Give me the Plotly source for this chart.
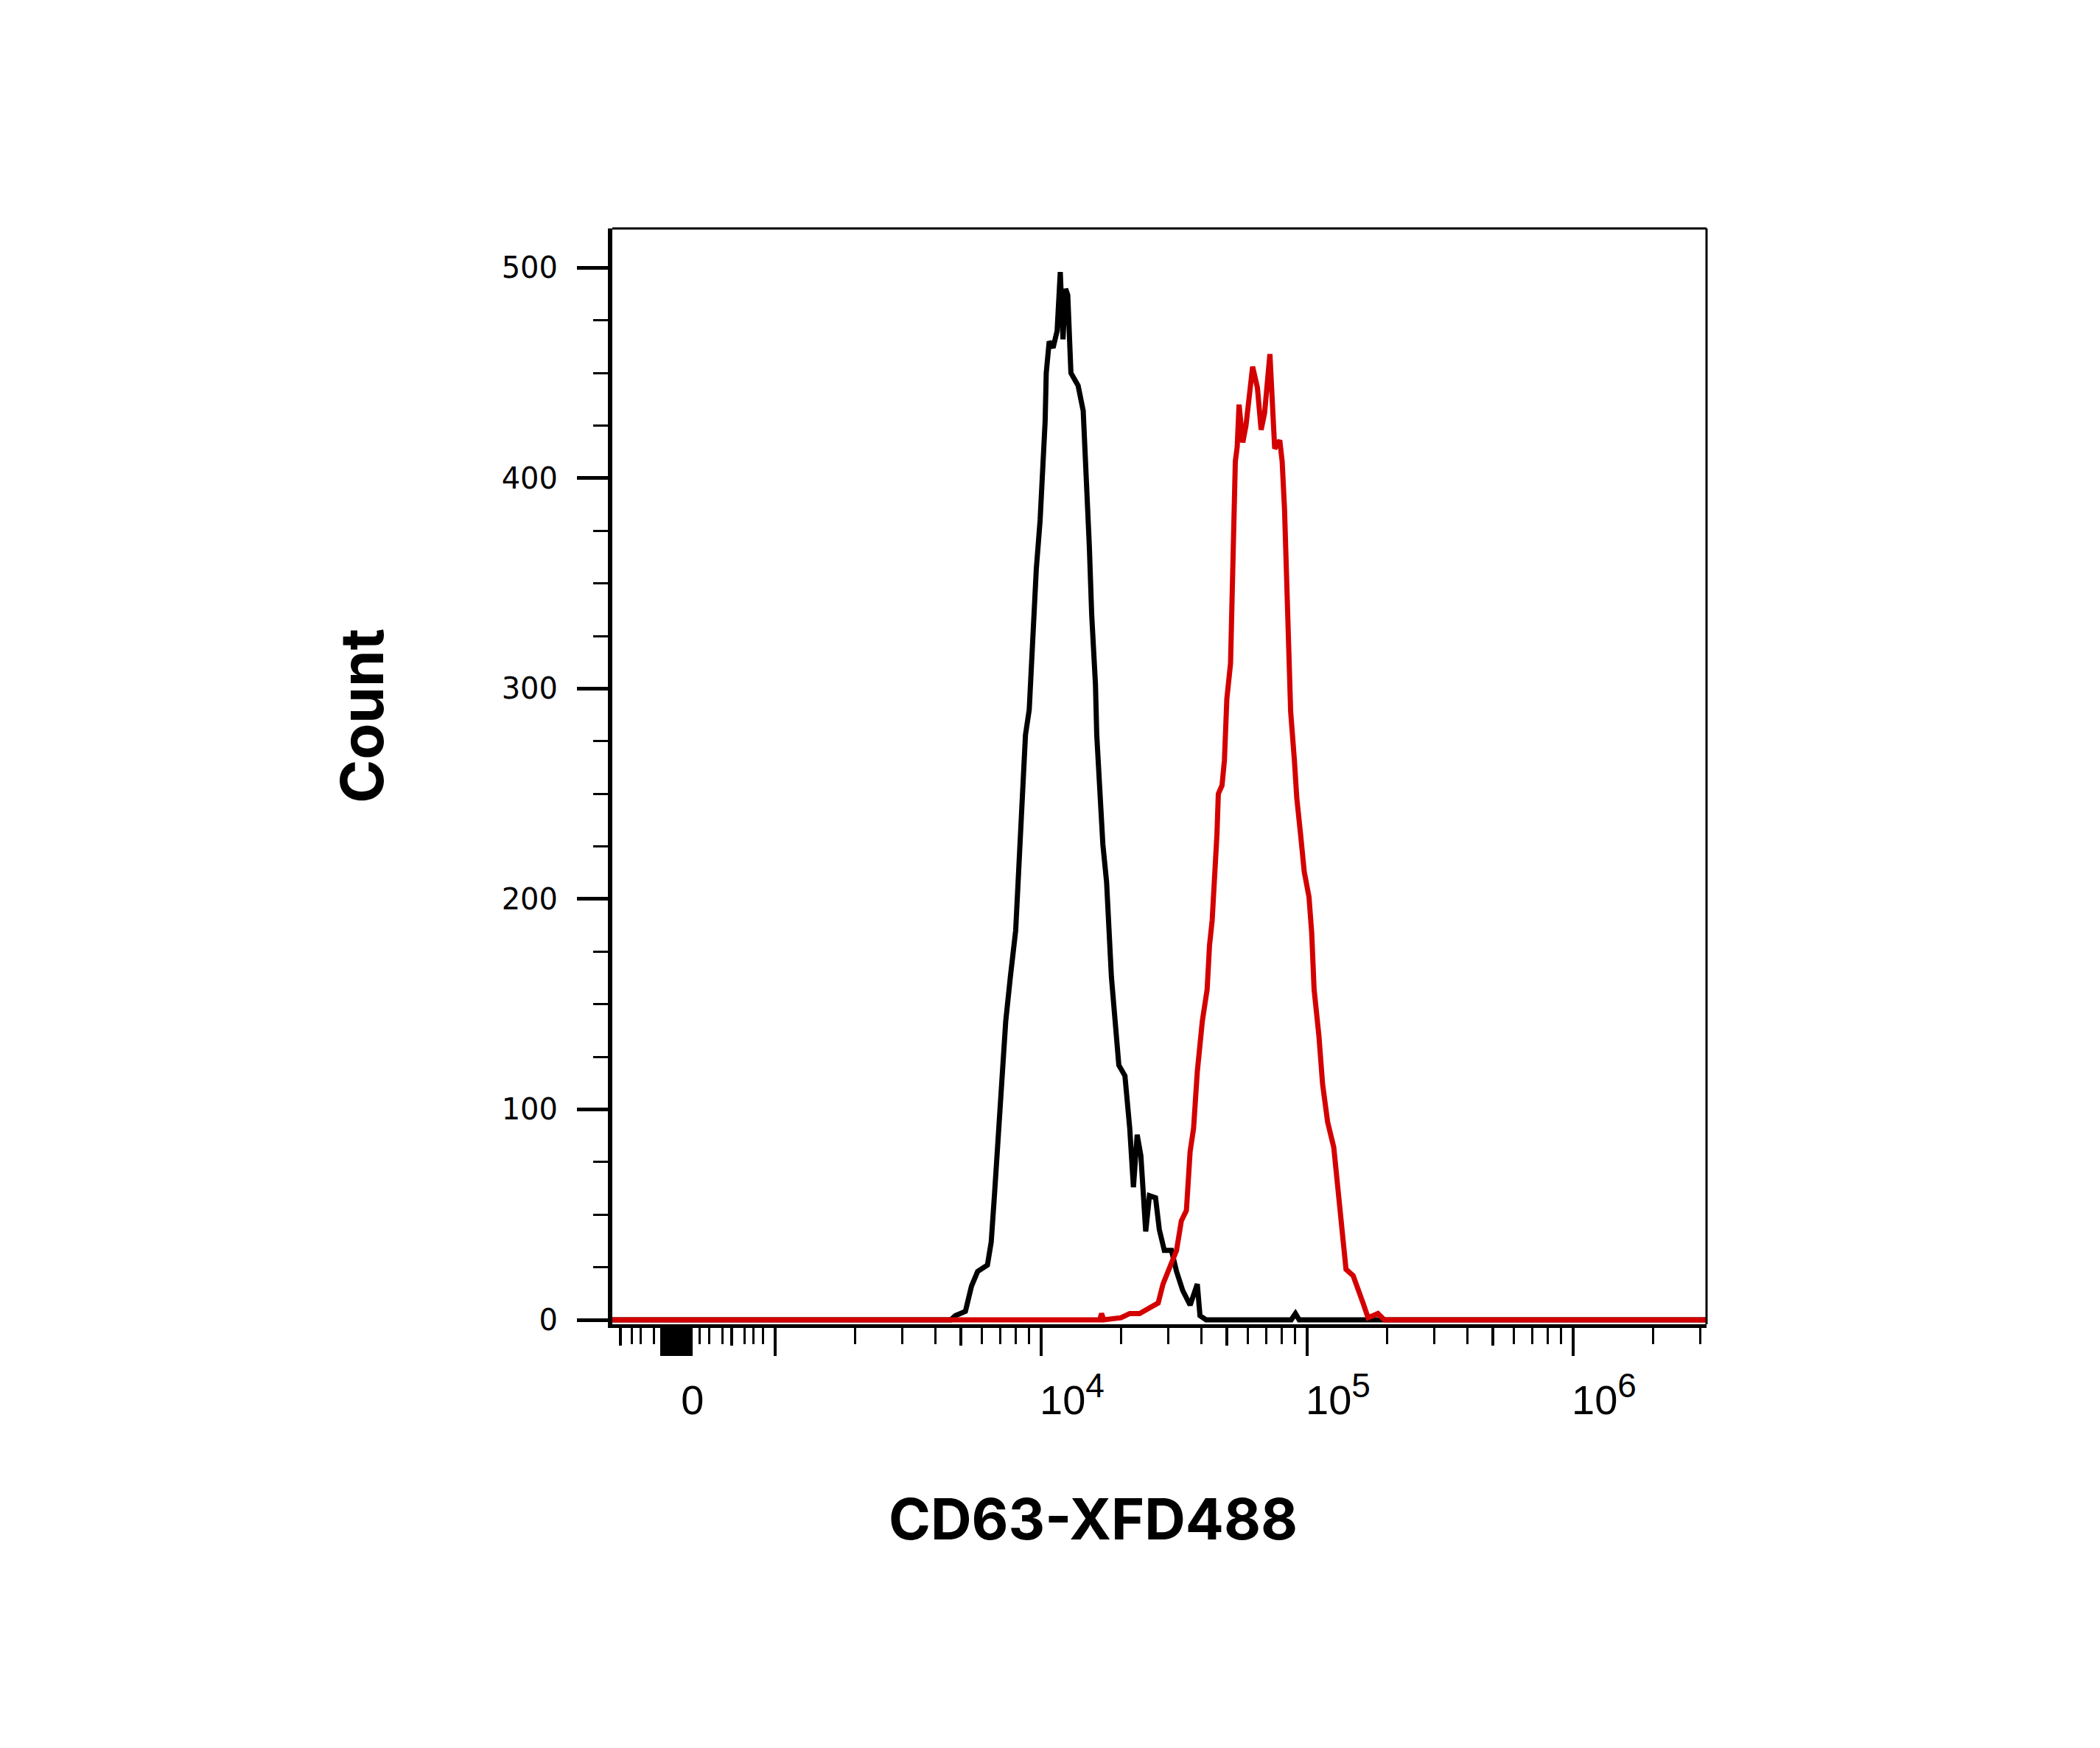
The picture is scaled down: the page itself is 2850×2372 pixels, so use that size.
import plotly.graph_objects as go

# ---------------- data ----------------
black_intensity = [240, 4570, 4760, 5190, 5470, 5770, 6280, 6490, 6680, 6900, 7130, 7360,
                   7660, 8020, 8190, 8360, 8550, 8730, 9020, 9200, 9460, 9590, 9910, 10140,
                   10350, 10450, 10720, 11090, 11480, 11800, 12080, 12360, 12590, 12940,
                   13770, 14390, 14690, 14860, 15170, 15490, 16000, 16180, 16520, 17060,
                   17620, 17990, 18370, 18970, 19590, 20650, 21530, 22230, 22960, 23710,
                   24720, 25530, 26920, 27800, 29040, 30900, 32280, 34040, 36310, 38640,
                   39540, 41690, 87100, 90360, 93330, 3190000]
black_count = [0, 0, 2, 4, 16, 23, 26, 37, 60, 89, 113, 142,
               163, 185, 208, 232, 261, 278, 290, 313, 335, 357, 380, 403,
               427, 450, 465, 462, 470, 498, 466, 490, 487, 450,
               444, 432, 409, 392, 368, 335, 302, 278, 255, 226,
               208, 185, 163, 142, 121, 116, 91, 63, 88, 78,
               42, 59, 58, 43, 33, 33, 23, 14, 7, 17,
               2, 0, 0, 3, 0, 0]

red_intensity = [240, 16600, 16870, 17180, 19950, 21530, 23440, 25000, 26610, 27540, 28710,
                 30620, 32280, 33650, 35160, 36310, 37410, 38640, 40360, 42070, 42950,
                 43950, 44870, 45810, 46350, 47860, 48870, 49890, 51520, 52000, 52600,
                 53210, 53700, 54580, 55460, 57280, 58880, 62370, 65010, 67140, 69180,
                 72440, 74820, 75510, 78890, 80540, 82220, 83180, 83950, 85510, 86700,
                 89540, 91410, 94410, 97510, 101600, 104000, 106200, 110700, 114300,
                 119400, 125900, 130000, 135500, 140000, 148900, 155600, 162200, 169400,
                 177800, 184500, 195000, 3190000]
red_count = [0, 0, 3, 0, 1, 3, 3, 5, 7, 8, 17,
             25, 33, 47, 52, 80, 91, 118, 142, 157, 178,
             190, 207, 231, 250, 254, 266, 295, 312, 338, 361,
             385, 408, 415, 435, 417, 425, 453, 443, 423, 431,
             459, 431, 414, 418, 408, 385, 361, 338, 309, 289,
             266, 248, 231, 213, 201, 184, 157, 135, 112,
             94, 82, 65, 42, 24, 21, 15, 8, 1,
             2, 3, 0, 0]

# axis ticks (logicle-style display emulated on a log axis)
sup_style = "<sup><span style='font-size:46px'>{}</span></sup>"
x_major_ticks = [374, 385, 395, 405, 415, 425, 435, 445, 455, 465, 475, 483,
                 1e3, 1e4, 1e5, 1e6]
x_major_text = ["0", "", "", "", "", "", "", "", "", "", "", "",
                "", "10" + sup_style.format(4), "10" + sup_style.format(5),
                "10" + sup_style.format(6)]
x_mid_ticks = [262, 687, 5e3, 5e4, 5e5]
x_minor_ticks = [290, 313, 351, 521, 566, 632, 766, 826, 898,
                 2e3, 3e3, 4e3, 6e3, 7e3, 8e3, 9e3,
                 2e4, 3e4, 4e4, 6e4, 7e4, 8e4, 9e4,
                 2e5, 3e5, 4e5, 6e5, 7e5, 8e5, 9e5,
                 2e6, 3e6]
y_major_ticks = [0, 100, 200, 300, 400, 500]

x_title = "CD63-XFD488"
y_title = "Count"

# ---------------- figure ----------------
W, H = 2850, 2372
xdom = [831 / W, 2316 / W]
ydom = [1 - 1797 / H, 1 - 310 / H]
xrange_log = [2.3878, 6.5014]
yrange = [-2.1, 518.7]

fig = go.Figure()
# black histogram on the main axis, red on the overlay axis (drawn on top)
fig.add_trace(go.Scatter(x=black_intensity, y=black_count, mode="lines",
                         xaxis="x", yaxis="y",
                         line=dict(color="#000000", width=7), showlegend=False,
                         hoverinfo="skip"))
fig.add_trace(go.Scatter(x=red_intensity, y=red_count, mode="lines",
                         xaxis="x2", yaxis="y",
                         line=dict(color="#d40000", width=7), showlegend=False,
                         hoverinfo="skip"))

tick_font_x = dict(family="Liberation Sans Narrow, Arial Narrow, Liberation Sans, Arial",
                   size=56, color="#000000")
tick_font_y = dict(family="DejaVu Sans, Liberation Sans, Arial", size=40, color="#000000")

fig.update_layout(
    width=W, height=H,
    margin=dict(l=0, r=0, t=0, b=0, autoexpand=False),
    paper_bgcolor="white", plot_bgcolor="white",
    showlegend=False,
    xaxis=dict(type="log", range=xrange_log, domain=xdom, anchor="y",
               showgrid=False, zeroline=False, automargin=False,
               showline=True, linecolor="black", linewidth=5,
               ticks="outside", ticklen=38, tickwidth=4, tickcolor="black",
               tickmode="array", tickvals=x_major_ticks, ticktext=x_major_text,
               tickfont=tick_font_x, ticklabelshift=42, ticklabelstandoff=12,
               minor=dict(tickmode="array", tickvals=x_minor_ticks, ticks="outside",
                          ticklen=22, tickwidth=3, tickcolor="black", showgrid=False)),
    xaxis2=dict(type="log", range=xrange_log, domain=xdom, anchor="y", overlaying="x",
                side="bottom", showgrid=False, zeroline=False, automargin=False,
                showline=False, ticks="outside", ticklen=28, tickwidth=4,
                tickcolor="black", tickmode="array", tickvals=x_mid_ticks,
                showticklabels=False),
    yaxis=dict(range=yrange, domain=ydom, anchor="x",
               showgrid=False, zeroline=False, automargin=False,
               showline=True, linecolor="black", linewidth=6,
               ticks="outside", ticklen=42, tickwidth=5, tickcolor="black",
               tickmode="array", tickvals=y_major_ticks,
               tickfont=tick_font_y, ticklabelstandoff=18,
               minor=dict(tick0=0, dtick=25, ticks="outside", ticklen=20,
                          tickwidth=3, tickcolor="black", showgrid=False)),
    shapes=[
        dict(type="line", xref="x domain", yref="y domain", x0=0, x1=1, y0=1, y1=1,
             line=dict(color="black", width=3)),
        dict(type="line", xref="x domain", yref="y domain", x0=1, x1=1, y0=0, y1=1,
             line=dict(color="black", width=3)),
    ],
    annotations=[
        dict(text="<b>" + x_title + "</b>", xref="paper", yref="paper",
             x=1483 / W, y=1 - 2061 / H, xanchor="center", yanchor="middle",
             showarrow=False, font=dict(family="Inter, Open Sans, Lato", size=77,
                                        color="#000000")),
        dict(text="<b>" + y_title + "</b>", xref="paper", yref="paper",
             x=491 / W, y=1 - 972 / H, xanchor="center", yanchor="middle",
             textangle=-90, showarrow=False,
             font=dict(family="Inter, Open Sans, Lato", size=80, color="#000000")),
    ],
)

fig.write_html("out.html")
